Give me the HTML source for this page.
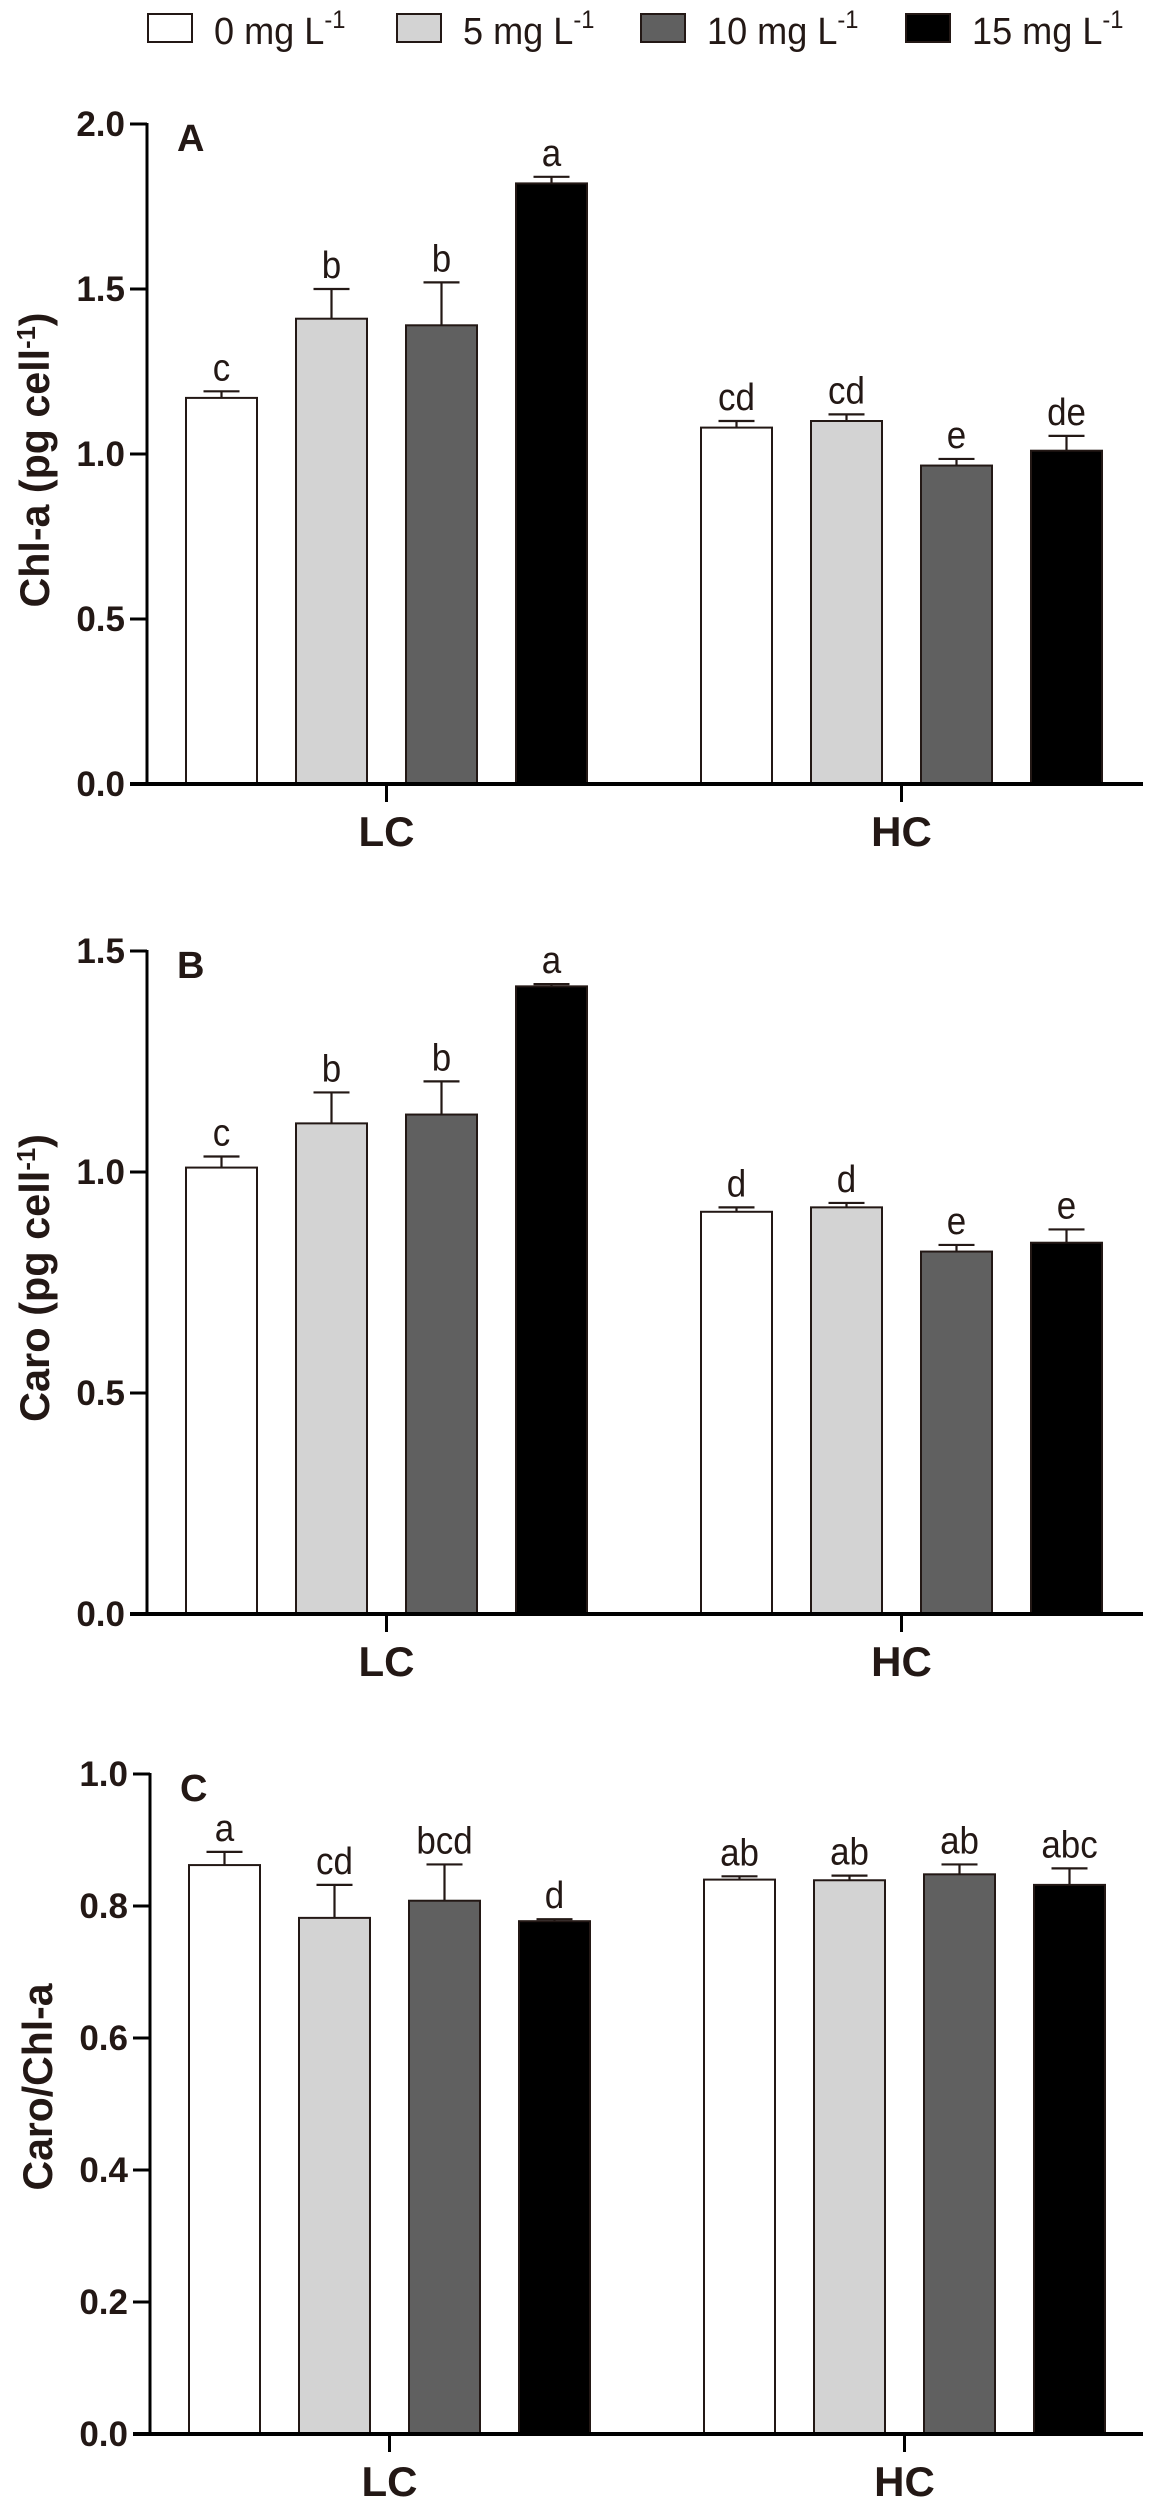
<!DOCTYPE html>
<html><head><meta charset="utf-8"><style>
html,body{margin:0;padding:0;background:#fff;}
svg{display:block;}
text{font-family:"Liberation Sans",Arial,sans-serif;fill:#231815;}
</style></head><body>
<svg id="chart" width="1152" height="2500" viewBox="0 0 1152 2500" xmlns="http://www.w3.org/2000/svg">
<g id="legend"></g>
</svg>
<script>
const groups = ["LC","HC"];
const seriesNames = ["0 mg L","5 mg L","10 mg L","15 mg L"];
const fills = ["#ffffff","#d3d3d3","#606060","#000000"];

const chlaVals = [[1.17,1.41,1.39,1.82],[1.08,1.10,0.965,1.01]];
const chlaErr  = [[0.02,0.09,0.13,0.02],[0.02,0.02,0.02,0.045]];
const chlaSig  = [["c","b","b","a"],["cd","cd","e","de"]];
const chlaTicks = [0,0.5,1.0,1.5,2.0];
const chlaTickLabels = ["0.0","0.5","1.0","1.5","2.0"];

const caroVals = [[1.01,1.11,1.13,1.42],[0.91,0.92,0.82,0.84]];
const caroErr  = [[0.025,0.07,0.075,0.005],[0.01,0.01,0.015,0.03]];
const caroSig  = [["c","b","b","a"],["d","d","e","e"]];
const caroTicks = [0,0.5,1.0,1.5];
const caroTickLabels = ["0.0","0.5","1.0","1.5"];

const ratioVals = [[0.862,0.782,0.808,0.777],[0.840,0.839,0.848,0.832]];
const ratioErr  = [[0.02,0.05,0.055,0.003],[0.005,0.007,0.015,0.025]];
const ratioSig  = [["a","cd","bcd","d"],["ab","ab","ab","abc"]];
const ratioTicks = [0,0.2,0.4,0.6,0.8,1.0];
const ratioTickLabels = ["0.0","0.2","0.4","0.6","0.8","1.0"];

const NS="http://www.w3.org/2000/svg";
const svg=document.getElementById('chart');
function mk(tag,attrs,parent){const e=document.createElementNS(NS,tag);for(const k in attrs)e.setAttribute(k,attrs[k]);(parent||svg).appendChild(e);return e;}

// legend
const legend=document.getElementById('legend');
const legBoxX=[148,397,641,906];
seriesNames.forEach((n,i)=>{
  const r=mk('rect',{x:legBoxX[i],y:14,width:44,height:28,fill:fills[i],stroke:'#231815','stroke-width':2},legend);
  
  
  const t=mk('text',{x:0,y:0,'font-size':38,transform:`translate(${legBoxX[i]+66},44) scale(0.95,1)`},legend);
  
  
  t.textContent=n;
  const s=mk('tspan',{dy:-16,'font-size':25},t); s.textContent='-1';
});

function panel(cfg){
  const g=mk('g',{});
  
  
  const y=v=>cfg.base-(v-0)/(cfg.max)*(cfg.base-cfg.top);
  const ax=cfg.axisX;
  const barX=(gi,si)=>ax+39+gi*515+si*110;
  const bw=71;
  cfg.vals.forEach((arr,gi)=>arr.forEach((v,si)=>{
    const x=barX(gi,si), yt=y(v), ye=y(v+cfg.err[gi][si]);
    const el=mk('line',{x1:x+bw/2,x2:x+bw/2,y1:yt,y2:ye,stroke:'#231815','stroke-width':2.2},g);
    
    
    const cap=mk('line',{x1:x+bw/2-18,x2:x+bw/2+18,y1:ye,y2:ye,stroke:'#231815','stroke-width':2.2},g);
    
    
    const r=mk('rect',{x:x,y:yt,width:bw,height:cfg.base-yt,fill:fills[si],stroke:'#231815','stroke-width':2},g);
    
    
    const t=mk('text',{x:0,y:0,'text-anchor':'middle','font-size':38,transform:`translate(${x+bw/2},${ye-11}) scale(0.92,1)`},g);
    
    
    t.textContent=cfg.sig[gi][si];
  }));
  const ya=mk('line',{x1:ax,x2:ax,y1:cfg.top-1,y2:cfg.base,stroke:'#000','stroke-width':3},g);
  
  
  const xa=mk('line',{x1:ax-17,x2:1143,y1:cfg.base,y2:cfg.base,stroke:'#000','stroke-width':4},g);
  
  
  cfg.ticks.forEach((tv,i)=>{
    const ty=y(tv);
    const tl=mk('line',{x1:ax-17,x2:ax,y1:ty,y2:ty,stroke:'#000','stroke-width':3},g);
    
    
    const tt=mk('text',{x:ax-22,y:ty+12,'text-anchor':'end','font-size':35,'font-weight':'bold'},g);
    
    
    tt.textContent=cfg.tickLabels[i];
  });
  groups.forEach((gn,gi)=>{
    const cx=barX(gi,0)+(3*110+bw)/2;
    const tk=mk('line',{x1:cx,x2:cx,y1:cfg.base,y2:cfg.base+18,stroke:'#000','stroke-width':3},g);
    
    
    const tt=mk('text',{x:cx,y:cfg.base+62,'text-anchor':'middle','font-size':42,'font-weight':'bold'},g);
    
    
    tt.textContent=gn;
  });
  const pl=mk('text',{x:ax+30,y:cfg.top+27,'font-size':38,'font-weight':'bold'},g);
  
  
  pl.textContent=cfg.letter;
  const yt=mk('text',{x:0,y:0,'text-anchor':'middle','font-size':42,'font-weight':'bold',textLength:cfg.titleLen,lengthAdjust:'spacingAndGlyphs',transform:`translate(${cfg.titleX},${cfg.titleY}) rotate(-90)`},g);
  
  
  yt.textContent=cfg.title;
  if(cfg.sup){const s=mk('tspan',{dy:-14,'font-size':26},yt);s.textContent='-1';const s2=mk('tspan',{dy:14},yt);s2.textContent=')';}
}

panel({name:'panel-a',letter:'A',vals:chlaVals,err:chlaErr,sig:chlaSig,ticks:chlaTicks,tickLabels:chlaTickLabels,max:2.0,top:124,base:784,axisX:147,title:'Chl-a (pg cell',sup:true,titleX:49,titleY:460,titleLen:295});
panel({name:'panel-b',letter:'B',vals:caroVals,err:caroErr,sig:caroSig,ticks:caroTicks,tickLabels:caroTickLabels,max:1.5,top:951,base:1614,axisX:147,title:'Caro (pg cell',sup:true,titleX:49,titleY:1278,titleLen:288});
panel({name:'panel-c',letter:'C',vals:ratioVals,err:ratioErr,sig:ratioSig,ticks:ratioTicks,tickLabels:ratioTickLabels,max:1.0,top:1774,base:2434,axisX:150,title:'Caro/Chl-a',sup:false,titleX:52,titleY:2087,titleLen:207});
</script>
</body></html>
